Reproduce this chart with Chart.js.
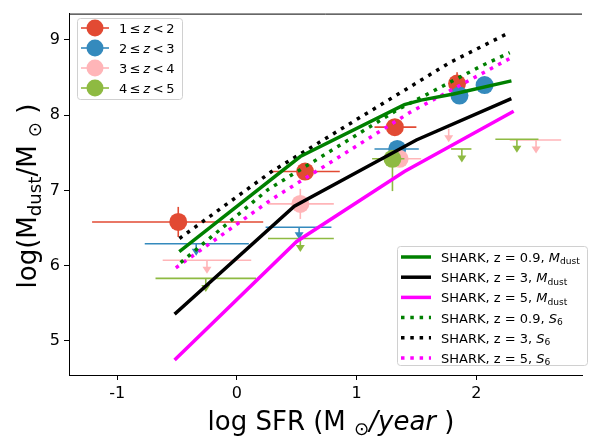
<!DOCTYPE html>
<html>
<head>
<meta charset="utf-8">
<script src="https://cdn.jsdelivr.net/npm/chart.js@4/dist/chart.umd.min.js"></script>
<style>
html, body { margin: 0; padding: 0; background: #fff; }
#wrap { width: 591px; height: 436px; }
</style>
</head>
<body>
<div id="wrap"><canvas id="mychart" width="591" height="436"></canvas></div>
<script>
// observed points, one group per redshift bin. errors are [low, high]
const z1Sfr = [-0.49, 0.57, 1.32, 1.84];
const z1Mdust = [6.58, 7.25, 7.84, 8.42];
const z1SfrErr = [[0.72, 0.71], [0.29, 0.29], [0.17, 0.18], [0, 0]];
const z1MdustErr = [[0.2, 0.2], [0.1, 0.1], [0.08, 0.08], [0.25, 0.15]];
const z1Upper = [false, false, false, false];

const z2Sfr = [-0.34, 0.52, 1.34, 1.86, 2.07];
const z2Mdust = [6.29, 6.51, 7.55, 8.26, 8.40];
const z2SfrErr = [[0.43, 0.44], [0.28, 0.27], [0.19, 0.18], [0, 0], [0, 0]];
const z2MdustErr = [[0.16, 0], [0.16, 0], [0.05, 0.05], [0.1, 0.1], [0.05, 0.05]];
const z2Upper = [true, true, false, false, false];

const z3Sfr = [-0.25, 0.53, 1.36, 1.77, 2.50];
const z3Mdust = [6.07, 6.82, 7.42, 7.82, 7.67];
const z3SfrErr = [[0.37, 0.37], [0.27, 0.28], [0.18, 0.18], [0, 0], [0.22, 0.21]];
const z3MdustErr = [[0.18, 0], [0.2, 0.2], [0.1, 0.1], [0.18, 0], [0.18, 0]];
const z3Upper = [true, false, false, true, true];

const z4Sfr = [-0.26, 0.53, 1.30, 1.88, 2.34];
const z4Mdust = [5.83, 6.36, 7.42, 7.55, 7.68];
const z4SfrErr = [[0.42, 0.42], [0.27, 0.28], [0.17, 0.10], [0.09, 0.08], [0.18, 0.18]];
const z4MdustErr = [[0.18, 0], [0.18, 0], [0.43, 0.1], [0.18, 0], [0.18, 0]];
const z4Upper = [true, true, false, true, true];

// SHARK model curves
const sharkZ09MdustX = [-0.47, 0.53, 1.40, 1.54, 1.81, 2.28];
const sharkZ09MdustY = [6.20, 7.45, 8.14, 8.20, 8.28, 8.45];
const sharkZ3MdustX = [-0.51, 0.48, 1.50, 2.28];
const sharkZ3MdustY = [5.37, 6.79, 7.67, 8.21];
const sharkZ5MdustX = [-0.51, 0.50, 1.40, 2.30];
const sharkZ5MdustY = [4.76, 6.32, 7.25, 8.04];
const sharkZ09S6X = [-0.47, 0.26, 1.34, 2.05, 2.28];
const sharkZ09S6Y = [6.04, 7.01, 8.07, 8.66, 8.83];
const sharkZ3S6X = [-0.48, 0.29, 1.78, 2.28];
const sharkZ3S6Y = [6.36, 7.25, 8.70, 9.10];
const sharkZ5S6X = [-0.51, 0.29, 1.45, 2.30];
const sharkZ5S6Y = [5.97, 6.88, 8.04, 8.77];

const xTicks = [-1, 0, 1, 2];
const yTicks = [5, 6, 7, 8, 9];

const FONT = "'DejaVu Sans'";
const pts = (xs, ys) => xs.map((x, i) => ({ x: x, y: ys[i] }));

function obsSet(label, color, xs, ys, xe, ye, up, order) {
    return {
        label: label,
        data: pts(xs, ys),
        showLine: false,
        pointRadius: up.map(u => u ? 0 : 9),
        pointBackgroundColor: color,
        pointBorderWidth: 0,
        borderColor: color,
        order: order,
        errs: { xe: xe, ye: ye, up: up, color: color }
    };
}

function sharkSet(label, color, xs, ys, dotted) {
    return {
        label: label,
        data: pts(xs, ys),
        showLine: true,
        borderColor: color,
        borderWidth: 3.5,
        borderDash: dotted ? [3.5, 5.8] : [],
        borderCapStyle: dotted ? 'butt' : 'square',
        pointRadius: 0,
        tension: 0,
        fill: false,
        order: 0
    };
}

// draw a run of text pieces; style: 'i' italic, 's' subscript
function rich(ctx, parts, x, y, size, align) {
    const list = parts.map(p => {
        const sub = p[1].indexOf('s') >= 0;
        const fs = sub ? size * 0.7 : size;
        const f = (p[1].indexOf('i') >= 0 ? 'italic ' : '') + fs + 'px ' + FONT;
        ctx.font = f;
        return { t: p[0], f: f, sub: sub, w: ctx.measureText(p[0]).width };
    });
    const total = list.reduce((a, p) => a + p.w, 0);
    let cx = align === 'center' ? x - total / 2 : x;
    list.forEach(p => {
        ctx.font = p.f;
        ctx.fillText(p.t, cx, y + (p.sub ? size * 0.18 : 0));
        cx += p.w;
    });
}

function legendBox(ctx, x, y, w, h) {
    ctx.save();
    ctx.beginPath();
    ctx.roundRect(x + 0.5, y + 0.5, w, h, 3);
    ctx.fillStyle = 'rgba(255,255,255,0.8)';
    ctx.fill();
    ctx.strokeStyle = '#d0d0d0';
    ctx.lineWidth = 1;
    ctx.stroke();
    ctx.restore();
}

const errorBars = {
    id: 'errorBars',
    beforeDatasetDraw(chart, args) {
        const ds = chart.data.datasets[args.index];
        if (!ds.errs) return;
        const ctx = chart.ctx;
        const xs = chart.scales.x, ys = chart.scales.y;
        const e = ds.errs;
        ctx.save();
        ctx.strokeStyle = e.color;
        ctx.fillStyle = e.color;
        ctx.lineWidth = 1.6;
        ds.data.forEach((p, i) => {
            const px = xs.getPixelForValue(p.x), py = ys.getPixelForValue(p.y);
            if (e.xe[i][0] || e.xe[i][1]) {
                ctx.beginPath();
                ctx.moveTo(xs.getPixelForValue(p.x - e.xe[i][0]), py);
                ctx.lineTo(xs.getPixelForValue(p.x + e.xe[i][1]), py);
                ctx.stroke();
            }
            if (e.up[i]) {
                const tip = ys.getPixelForValue(p.y - e.ye[i][0]);
                ctx.beginPath();
                ctx.moveTo(px, py);
                ctx.lineTo(px, tip - 4);
                ctx.stroke();
                ctx.beginPath();
                ctx.moveTo(px - 4.5, tip - 7);
                ctx.lineTo(px + 4.5, tip - 7);
                ctx.lineTo(px, tip);
                ctx.closePath();
                ctx.fill();
            } else if (e.ye[i][0] || e.ye[i][1]) {
                ctx.beginPath();
                ctx.moveTo(px, ys.getPixelForValue(p.y - e.ye[i][0]));
                ctx.lineTo(px, ys.getPixelForValue(p.y + e.ye[i][1]));
                ctx.stroke();
            }
        });
        ctx.restore();
    },
    afterDraw(chart) {
        const ctx = chart.ctx;
        const a = chart.chartArea;
        ctx.save();
        // top spine
        ctx.strokeStyle = '#000';
        ctx.lineWidth = 1;
        ctx.beginPath();
        ctx.moveTo(a.left, a.top + 0.5);
        ctx.lineTo(a.right, a.top + 0.5);
        ctx.stroke();

        ctx.fillStyle = '#000';
        ctx.textBaseline = 'alphabetic';
        // axis titles
        rich(ctx, [['log SFR (M', ''], [' ', ''], ['\u2299', 's'], ['/year', 'i'], [' )', '']], 331, 430, 26, 'center');
        ctx.save();
        ctx.translate(36, 196);
        ctx.rotate(-Math.PI / 2);
        rich(ctx, [['log(M', ''], ['dust', 's'], ['/M', ''], [' ', ''], ['\u2299', 's'], [' )', '']], 0, 0, 26, 'center');
        ctx.restore();

        // legend for the observations
        legendBox(ctx, 77, 18, 105, 81);
        const obs = chart.data.datasets.filter(d => d.errs);
        obs.sort((p, q) => q.order - p.order);
        obs.forEach((d, i) => {
            const y = 28 + i * 20;
            ctx.strokeStyle = d.errs.color;
            ctx.fillStyle = d.errs.color;
            ctx.lineWidth = 1.6;
            ctx.beginPath();
            ctx.moveTo(81, y);
            ctx.lineTo(109, y);
            ctx.stroke();
            ctx.beginPath();
            ctx.arc(95, y, 8.5, 0, Math.PI * 2);
            ctx.fill();
            ctx.fillStyle = '#000';
            const lo = d.label.split('-');
            rich(ctx, [[lo[0] + '\u2009\u2264\u2009', ''], ['z', 'i'], ['\u2009<\u2009' + lo[1], '']], 119, y + 5, 13, 'left');
        });

        // legend for the model curves
        legendBox(ctx, 397, 246, 190, 119);
        const models = chart.data.datasets.filter(d => !d.errs);
        models.forEach((d, i) => {
            const y = 257 + i * 20.2;
            ctx.strokeStyle = d.borderColor;
            ctx.lineWidth = 3.5;
            ctx.lineCap = 'butt';
            ctx.setLineDash(d.borderDash);
            ctx.beginPath();
            ctx.moveTo(401, y);
            ctx.lineTo(431, y);
            ctx.stroke();
            ctx.setLineDash([]);
            ctx.fillStyle = '#000';
            const bits = d.label.split('|');
            const tail = bits[1] === 'M' ? [['M', 'i'], ['dust', 's']] : [['S', 'i'], ['6', 's']];
            rich(ctx, [[bits[0], '']].concat(tail), 441, y + 5, 13, 'left');
        });
        ctx.restore();
    }
};

const ctx = document.getElementById('mychart');
const myChart = new Chart(ctx, {
    type: 'scatter',
    data: {
        datasets: [
            sharkSet('SHARK, z = 0.9, |M', 'green', sharkZ09MdustX, sharkZ09MdustY, false),
            sharkSet('SHARK, z = 3, |M', 'black', sharkZ3MdustX, sharkZ3MdustY, false),
            sharkSet('SHARK, z = 5, |M', '#ff00ff', sharkZ5MdustX, sharkZ5MdustY, false),
            sharkSet('SHARK, z = 0.9, |S', 'green', sharkZ09S6X, sharkZ09S6Y, true),
            sharkSet('SHARK, z = 3, |S', 'black', sharkZ3S6X, sharkZ3S6Y, true),
            sharkSet('SHARK, z = 5, |S', '#ff00ff', sharkZ5S6X, sharkZ5S6Y, true),
            obsSet('1-2', '#E24A33', z1Sfr, z1Mdust, z1SfrErr, z1MdustErr, z1Upper, 4),
            obsSet('2-3', '#348ABD', z2Sfr, z2Mdust, z2SfrErr, z2MdustErr, z2Upper, 3),
            obsSet('3-4', '#FFB5B8', z3Sfr, z3Mdust, z3SfrErr, z3MdustErr, z3Upper, 2),
            obsSet('4-5', '#8EBA42', z4Sfr, z4Mdust, z4SfrErr, z4MdustErr, z4Upper, 1)
        ]
    },
    options: {
        responsive: false,
        animation: false,
        layout: { padding: { top: 11, left: 0, right: 0, bottom: 0 } },
        plugins: { legend: { display: false }, tooltip: { enabled: false } },
        scales: {
            x: {
                type: 'linear',
                min: -1.403,
                max: 2.884,
                afterBuildTicks: s => { s.ticks = xTicks.map(v => ({ value: v })); },
                afterFit: s => { s.height = 61; },
                grid: { drawOnChartArea: false, tickLength: 5, tickColor: '#000', tickWidth: 1 },
                border: { color: '#000', width: 1 },
                ticks: { color: '#000', padding: 4, font: { family: 'DejaVu Sans', size: 16 }, callback: v => String(v) }
            },
            y: {
                type: 'linear',
                min: 4.545,
                max: 9.35,
                afterBuildTicks: s => { s.ticks = yTicks.map(v => ({ value: v })); },
                afterFit: s => { s.width = 69; },
                grid: { drawOnChartArea: false, tickLength: 5, tickColor: '#000', tickWidth: 1 },
                border: { color: '#000', width: 1 },
                ticks: { color: '#000', padding: 4, font: { family: 'DejaVu Sans', size: 16 }, callback: v => String(v) }
            }
        }
    },
    plugins: [errorBars]
});
</script>
</body>
</html>
